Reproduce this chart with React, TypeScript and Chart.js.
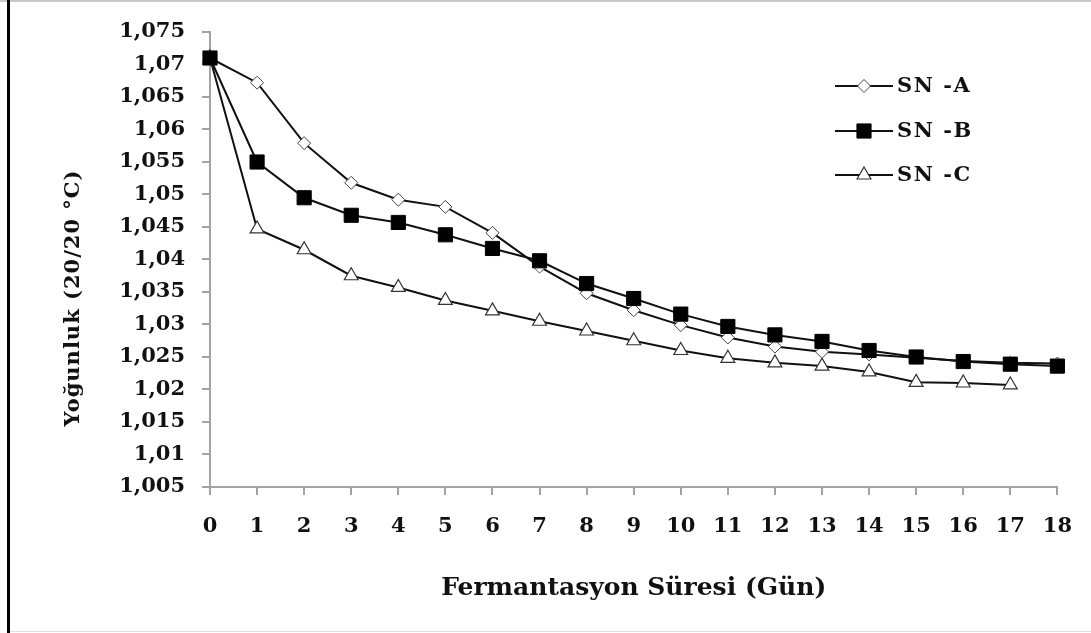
import React, { useEffect, useRef } from "react";
import { Chart, registerables } from "chart.js";

Chart.register(...registerables);

// Fermentation day (x axis categories)
const DAYS = ["0", "1", "2", "3", "4", "5", "6", "7", "8", "9", "10", "11", "12", "13", "14", "15", "16", "17", "18"];

// Density (20/20 °C) per sample
const SN_A = [1.071, 1.0672, 1.0579, 1.0518, 1.0492, 1.0481, 1.0441, 1.0389, 1.0348, 1.0322, 1.0299, 1.028, 1.0266, 1.0258, 1.0254, 1.0249, 1.0244, 1.0241, 1.024];
const SN_B = [1.071, 1.055, 1.0495, 1.0468, 1.0457, 1.0438, 1.0417, 1.0398, 1.0363, 1.034, 1.0316, 1.0297, 1.0284, 1.0274, 1.026, 1.025, 1.0243, 1.0239, 1.0236];
const SN_C = [1.071, 1.0447, 1.0415, 1.0375, 1.0357, 1.0337, 1.0321, 1.0305, 1.029, 1.0275, 1.026, 1.0248, 1.0241, 1.0236, 1.0227, 1.0211, 1.021, 1.0207, null];

const SERIES_NAMES = ["SN -A", "SN -B", "SN -C"];

// Y axis ticks and their printed labels
const Y_TICKS = [1.005, 1.01, 1.015, 1.02, 1.025, 1.03, 1.035, 1.04, 1.045, 1.05, 1.055, 1.06, 1.065, 1.07, 1.075];
const Y_TICK_LABELS = ["1,005", "1,01", "1,015", "1,02", "1,025", "1,03", "1,035", "1,04", "1,045", "1,05", "1,055", "1,06", "1,065", "1,07", "1,075"];

const X_TITLE = "Fermantasyon Süresi (Gün)";
const Y_TITLE = "Yoğunluk (20/20 °C)";

const FONT_FAMILY = "'DejaVu Serif', 'Liberation Serif', serif";
const AXIS_GREY = "#a3a3a3";

function drawMarker(ctx: CanvasRenderingContext2D, style: string, r: number, x: number, y: number) {
  ctx.beginPath();
  if (style === "rect") {
    const s = Math.SQRT1_2 * r;
    ctx.rect(x - s, y - s, 2 * s, 2 * s);
  } else if (style === "rectRot") {
    ctx.moveTo(x, y - r);
    ctx.lineTo(x + r, y);
    ctx.lineTo(x, y + r);
    ctx.lineTo(x - r, y);
    ctx.closePath();
  } else {
    ctx.moveTo(x, y - r);
    ctx.lineTo(x + r * Math.sin((Math.PI * 2) / 3), y - r * Math.cos((Math.PI * 2) / 3));
    ctx.lineTo(x + r * Math.sin((Math.PI * 4) / 3), y - r * Math.cos((Math.PI * 4) / 3));
    ctx.closePath();
  }
  ctx.fill();
  ctx.stroke();
}

// Draws the in-plot legend and the rotated y-axis title
const overlayPlugin = {
  id: "overlay",
  afterDraw(chart: any) {
    const ctx = chart.ctx;

    // y-axis title
    ctx.save();
    ctx.font = `bold 21px ${FONT_FAMILY}`;
    (ctx as any).letterSpacing = "1px";
    ctx.fillStyle = "#111";
    ctx.textAlign = "center";
    ctx.textBaseline = "middle";
    ctx.translate(74, 298);
    ctx.rotate(-Math.PI / 2);
    ctx.fillText(Y_TITLE, 0, 0);
    ctx.restore();

    // legend
    ctx.save();
    const startX = 835;
    const lineLen = 58;
    const rowYs = [86, 131, 175];
    chart.data.datasets.forEach((ds: any, i: number) => {
      const y = rowYs[i];
      ctx.strokeStyle = ds.borderColor;
      ctx.lineWidth = ds.borderWidth;
      ctx.beginPath();
      ctx.moveTo(startX, y);
      ctx.lineTo(startX + lineLen, y);
      ctx.stroke();
      ctx.fillStyle = ds.pointBackgroundColor;
      ctx.strokeStyle = ds.pointBorderColor;
      ctx.lineWidth = ds.pointBorderWidth;
      drawMarker(ctx, ds.pointStyle, ds.pointRadius, startX + lineLen / 2, y);
      ctx.fillStyle = "#111";
      ctx.font = `bold 21px ${FONT_FAMILY}`;
      (ctx as any).letterSpacing = "1.5px";
      ctx.textAlign = "left";
      ctx.textBaseline = "middle";
      ctx.fillText(ds.label, startX + lineLen + 4, y + 1);
      (ctx as any).letterSpacing = "0px";
    });
    ctx.restore();
  },
};

export default function App() {
  const canvasRef = useRef<HTMLCanvasElement | null>(null);

  useEffect(() => {
    if (!canvasRef.current) return;
    const chart = new Chart(canvasRef.current, {
      type: "line",
      data: {
        labels: DAYS,
        datasets: [
          {
            label: SERIES_NAMES[0],
            data: SN_A,
            borderColor: "#111",
            borderWidth: 2,
            pointStyle: "rectRot",
            pointRadius: 6.5,
            pointBackgroundColor: "#fff",
            pointBorderColor: "#444",
            pointBorderWidth: 1,
            order: 1,
          },
          {
            label: SERIES_NAMES[1],
            data: SN_B,
            borderColor: "#111",
            borderWidth: 2,
            pointStyle: "rect",
            pointRadius: 10,
            pointBackgroundColor: "#000",
            pointBorderColor: "#000",
            pointBorderWidth: 1,
            order: 0,
          },
          {
            label: SERIES_NAMES[2],
            data: SN_C,
            borderColor: "#111",
            borderWidth: 2,
            pointStyle: "triangle",
            pointRadius: 8,
            pointBackgroundColor: "#fff",
            pointBorderColor: "#333",
            pointBorderWidth: 1.2,
            order: 2,
          },
        ] as any,
      },
      options: {
        responsive: false,
        animation: false,
        layout: { padding: { top: 32, right: 32, bottom: 0, left: 0 } },
        plugins: { legend: { display: false }, tooltip: { enabled: false } },
        scales: {
          x: {
            type: "category",
            offset: false,
            grid: { display: true, drawOnChartArea: false, drawTicks: true, tickLength: 8, color: AXIS_GREY, lineWidth: 2, offset: false },
            border: { display: true, color: AXIS_GREY, width: 2 },
            ticks: { color: "#111", font: { family: FONT_FAMILY, size: 21, weight: "bold" }, padding: 19, maxRotation: 0, autoSkip: false },
            title: { display: true, text: X_TITLE, color: "#111", font: { family: FONT_FAMILY, size: 25, weight: "bold" }, padding: { top: 0, bottom: 30 } },
            afterFit: (scale: any) => {
              scale.height = 146;
            },
          },
          y: {
            type: "linear",
            min: 1.005,
            max: 1.075,
            grid: { display: true, drawOnChartArea: false, drawTicks: true, tickLength: 8, color: AXIS_GREY, lineWidth: 2 },
            border: { display: true, color: AXIS_GREY, width: 2 },
            afterBuildTicks: (scale: any) => {
              scale.ticks = Y_TICKS.map((v) => ({ value: v }));
            },
            ticks: {
              color: "#111",
              font: { family: FONT_FAMILY, size: 21, weight: "bold" },
              padding: 17,
              callback: (_v: any, i: number) => Y_TICK_LABELS[i],
            },
            afterFit: (scale: any) => {
              scale.width = 210;
            },
          },
        },
      } as any,
      plugins: [overlayPlugin],
    });
    return () => chart.destroy();
  }, []);

  return (
    <div style={{ position: "fixed", left: 0, top: 0, width: 1091, height: 633, background: "#fff" }}>
      <canvas ref={canvasRef} width={1091} height={633} style={{ position: "absolute", left: 0, top: 0 }} />
      <div style={{ position: "absolute", left: 0, top: 0, width: 1091, height: 2, background: "#c8c8c8" }} />
      <div style={{ position: "absolute", left: 7, top: 0, width: 3, height: 633, background: "#000" }} />
      <div style={{ position: "absolute", left: 10, top: 631, width: 1081, height: 1, background: "#e0e0e0" }} />
    </div>
  );
}
